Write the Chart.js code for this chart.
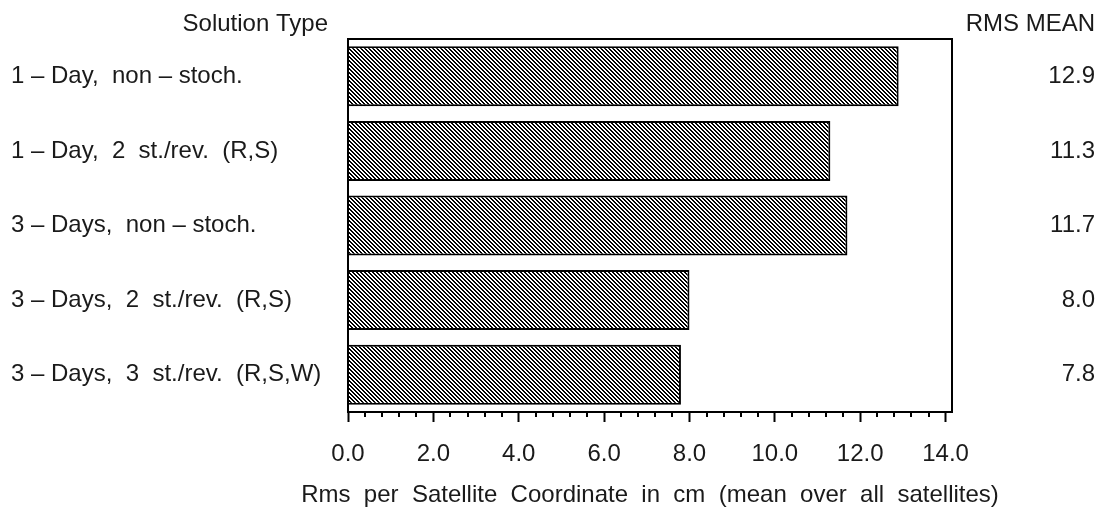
<!DOCTYPE html>
<html>
<head>
<meta charset="utf-8">
<script src="https://cdn.jsdelivr.net/npm/chart.js@4/dist/chart.umd.min.js"></script>
<style>
  html, body { margin: 0; padding: 0; background: #fff; }
  #wrap { width: 1108px; height: 508px; }
</style>
</head>
<body>
<div id="wrap"><canvas id="rmsChart" width="1108" height="508"></canvas></div>
<script>
const solutionTypes = [
    "1 \u2013 Day,  non \u2013 stoch.",
    "1 \u2013 Day,  2  st./rev.  (R,S)",
    "3 \u2013 Days,  non \u2013 stoch.",
    "3 \u2013 Days,  2  st./rev.  (R,S)",
    "3 \u2013 Days,  3  st./rev.  (R,S,W)"
];
const rmsMean = [12.9, 11.3, 11.7, 8.0, 7.8];
const xTicks = [0, 2, 4, 6, 8, 10, 12, 14];
const xMinorPerMajor = 5;
const xTitle = "Rms  per  Satellite  Coordinate  in  cm  (mean  over  all  satellites)";

const FONT = "'Liberation Sans', Arial, sans-serif";
const INK = "#1a1a1a";

// diagonal hatch, lines running top-left to bottom-right
function makeHatch() {
    const c = document.createElement('canvas');
    c.width = 4; c.height = 4;
    const g = c.getContext('2d');
    g.fillStyle = '#fff';
    g.fillRect(0, 0, 4, 4);
    g.fillStyle = '#000';
    for (let y = 0; y < 4; y++) {
        g.fillRect(y % 4, y, 1, 1);
        g.fillRect((y + 1) % 4, y, 1, 1);
    }
    return g.createPattern(c, 'repeat');
}

const framePlugin = {
    id: 'frame',
    afterDraw(chart) {
        const ctx = chart.ctx;
        const a = chart.chartArea;
        const x = chart.scales.x;
        ctx.save();
        ctx.strokeStyle = '#000';
        ctx.lineWidth = 2;
        ctx.strokeRect(a.left, a.top, a.right - a.left, a.bottom - a.top);

        // minor ticks between the labelled ones
        ctx.beginPath();
        for (let i = 0; i < xTicks.length; i++) {
            const step = 2 / xMinorPerMajor;
            for (let k = 1; k < xMinorPerMajor; k++) {
                const v = xTicks[i] + k * step;
                if (v > x.max) break;
                const px = Math.round(x.getPixelForValue(v));
                ctx.moveTo(px, a.bottom);
                ctx.lineTo(px, a.bottom + 5);
            }
        }
        ctx.stroke();

        ctx.fillStyle = INK;
        ctx.font = "24px " + FONT;
        ctx.textBaseline = 'middle';
        ctx.textAlign = 'right';
        ctx.fillText("Solution Type", a.left - 20, 24);
        ctx.fillText("RMS MEAN", chart.width - 13, 24);
        ctx.textAlign = 'center';
        ctx.fillText(xTitle, (a.left + a.right) / 2, 495);
        ctx.restore();
    }
};

const ctx = document.getElementById('rmsChart').getContext('2d');
const rmsChart = new Chart(ctx, {
    type: 'bar',
    data: {
        labels: solutionTypes,
        datasets: [{
            data: rmsMean,
            backgroundColor: makeHatch(),
            borderColor: '#000',
            borderWidth: 2,
            borderSkipped: 'start',
            categoryPercentage: 0.804,
            barPercentage: 1.0
        }]
    },
    options: {
        indexAxis: 'y',
        responsive: false,
        animation: false,
        devicePixelRatio: 1,
        layout: { padding: { left: 11, right: 13, top: 39, bottom: 0 } },
        plugins: { legend: { display: false }, tooltip: { enabled: false } },
        scales: {
            x: {
                type: 'linear',
                min: 0,
                max: 14.15,
                afterBuildTicks: (scale) => { scale.ticks = xTicks.map(v => ({ value: v })); },
                afterFit: (scale) => { scale.height = 96; },
                grid: { display: true, drawOnChartArea: false, drawTicks: true, tickLength: 10, tickWidth: 2, tickColor: '#000' },
                border: { display: true, color: '#000', width: 2 },
                ticks: {
                    padding: 18,
                    color: INK,
                    font: { family: FONT, size: 24 },
                    maxRotation: 0,
                    callback: (v) => Number(v).toFixed(1)
                }
            },
            y: {
                type: 'category',
                position: 'left',
                afterFit: (scale) => { scale.width = 337; },
                grid: { display: false },
                border: { display: false },
                ticks: { crossAlign: 'far', color: INK, font: { family: FONT, size: 24 } }
            },
            y2: {
                type: 'category',
                position: 'right',
                labels: rmsMean.map(v => v.toFixed(1)),
                offset: true,
                afterFit: (scale) => { scale.width = 143; },
                grid: { display: false },
                border: { display: false },
                ticks: { crossAlign: 'far', color: INK, font: { family: FONT, size: 24 } }
            }
        }
    },
    plugins: [framePlugin]
});
</script>
</body>
</html>
